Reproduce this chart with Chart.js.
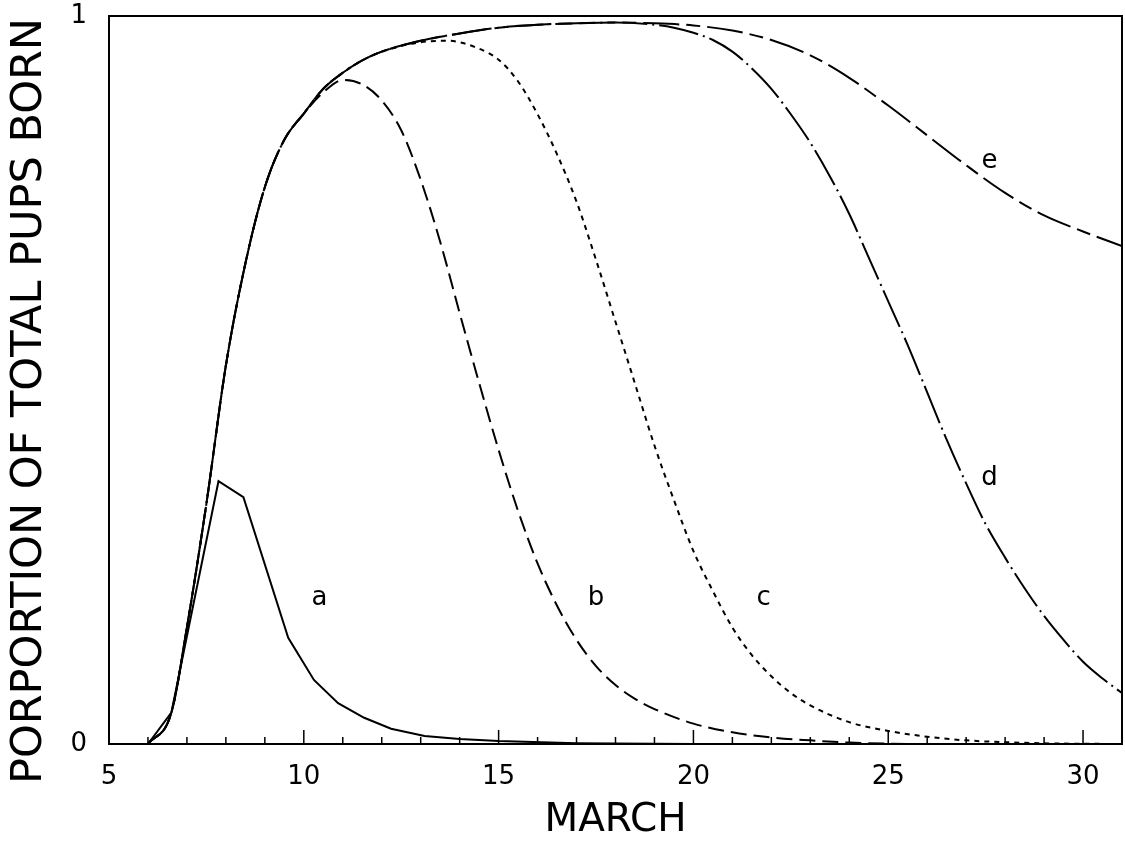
<!DOCTYPE html>
<html>
<head>
<meta charset="utf-8">
<title>Pups born in March</title>
<script src="https://cdn.jsdelivr.net/npm/chart.js"></script>
<style>
  body { margin: 0; background: #fff; }
  .wrap { width: 1125px; height: 846px; position: relative; }
</style>
</head>
<body>
<div class="wrap"><canvas id="pupsChart"></canvas></div>
<script>
// day of March -> proportion of total pups born
const aDays = [6, 6.6, 7.81, 8.45, 9.6, 10.26, 10.88, 11.55, 12.24, 13.1, 14, 15, 17, 20, 31];
const aVals = [0, 0.043, 0.361, 0.339, 0.146, 0.088, 0.056, 0.036, 0.021, 0.011, 0.007, 0.004, 0.001, 0, 0];

const bDays = [6, 6.6, 7.0, 7.5, 8.0, 8.5, 9.0, 9.5, 10.0, 10.5, 11.0, 11.5, 12.0, 12.5, 13.0, 13.5, 14.0, 14.5, 15.0, 15.5, 16.0, 16.5, 17.0, 17.5, 18.0, 18.5, 19.0, 20, 21, 22, 23, 24, 26, 31];
const bVals = [0, 0.043, 0.16, 0.33, 0.52, 0.66, 0.765, 0.83, 0.866, 0.895, 0.912, 0.906, 0.884, 0.843, 0.775, 0.69, 0.592, 0.496, 0.404, 0.32, 0.248, 0.19, 0.143, 0.107, 0.081, 0.062, 0.048, 0.028, 0.016, 0.009, 0.005, 0.002, 0, 0];

const cDays = [6, 6.6, 7.0, 7.5, 8.0, 8.5, 9.0, 9.5, 10.0, 10.5, 11.0, 11.5, 12.0, 13.0, 13.7, 14.5, 15.0, 15.5, 16.0, 16.5, 17.0, 17.5, 18.0, 18.5, 19.0, 19.5, 20.0, 20.5, 21.0, 21.5, 22.0, 22.5, 23.0, 24, 25, 26, 27, 29, 31];
const cVals = [0, 0.043, 0.16, 0.33, 0.52, 0.66, 0.765, 0.83, 0.866, 0.9, 0.922, 0.939, 0.951, 0.964, 0.966, 0.955, 0.94, 0.91, 0.865, 0.81, 0.745, 0.665, 0.58, 0.495, 0.41, 0.335, 0.265, 0.21, 0.16, 0.122, 0.093, 0.07, 0.053, 0.03, 0.018, 0.01, 0.005, 0.001, 0];

const dDays = [6, 6.6, 7.0, 7.5, 8.0, 8.5, 9.0, 9.5, 10.0, 10.5, 11.0, 11.5, 12.0, 13, 14, 15, 16, 17, 18, 19.0, 19.5, 20.0, 20.5, 21.0, 21.5, 22.0, 22.5, 23.0, 23.5, 24.0, 24.5, 25.0, 25.5, 26.0, 26.5, 27.0, 27.5, 28.0, 28.5, 29.0, 29.5, 30.0, 30.5, 31];
const dVals = [0, 0.043, 0.16, 0.33, 0.52, 0.66, 0.765, 0.83, 0.866, 0.9, 0.922, 0.939, 0.951, 0.966, 0.976, 0.984, 0.988, 0.99, 0.991, 0.988, 0.984, 0.977, 0.967, 0.951, 0.928, 0.9, 0.865, 0.826, 0.78, 0.728, 0.668, 0.608, 0.548, 0.483, 0.418, 0.358, 0.302, 0.256, 0.214, 0.176, 0.143, 0.113, 0.09, 0.07];

const eDays = [6, 6.6, 7.0, 7.5, 8.0, 8.5, 9.0, 9.5, 10.0, 10.5, 11.0, 11.5, 12.0, 13, 14, 15, 16, 17, 18, 19, 20, 21, 22, 23, 24, 25, 26, 27, 28, 29, 30, 31];
const eVals = [0, 0.043, 0.16, 0.33, 0.52, 0.66, 0.765, 0.83, 0.866, 0.9, 0.922, 0.939, 0.951, 0.966, 0.976, 0.984, 0.988, 0.99, 0.991, 0.99, 0.987, 0.98, 0.967, 0.946, 0.915, 0.877, 0.836, 0.795, 0.757, 0.726, 0.704, 0.684];

// curve labels, placed in data units
const curveNames = ['a', 'b', 'c', 'd', 'e'];
const curveLabelX = [10.4, 17.5, 21.8, 27.6, 27.6];
const curveLabelY = [0.2, 0.2, 0.2, 0.365, 0.8];

const yTicks = [0, 1];
const yTitle = 'PORPORTION OF TOTAL PUPS BORN';

function pts(xs, ys) {
  return xs.map((x, i) => ({ x: x, y: ys[i] }));
}

function line(label, xs, ys, dash, smooth) {
  return {
    label: label,
    data: pts(xs, ys),
    borderColor: '#000',
    borderWidth: 2,
    borderDash: dash,
    pointRadius: 0,
    fill: false,
    tension: 0,
    cubicInterpolationMode: smooth ? 'monotone' : 'default'
  };
}

// frame, inward ticks, y title and curve letters
const decorations = {
  id: 'decorations',
  afterDatasetsDraw(chart) {
    const ctx = chart.ctx;
    const area = chart.chartArea;
    const xs = chart.scales.x;
    const ys = chart.scales.y;
    ctx.save();
    ctx.strokeStyle = '#000';
    ctx.lineWidth = 2;
    ctx.strokeRect(area.left, area.top, area.right - area.left, area.bottom - area.top);
    ctx.lineWidth = 1.5;
    xs.ticks.forEach(t => {
      const px = xs.getPixelForValue(t.value);
      const len = t.value % 5 === 0 ? 14 : 7;
      ctx.beginPath();
      ctx.moveTo(px, area.bottom);
      ctx.lineTo(px, area.bottom - len);
      ctx.stroke();
    });
    ctx.fillStyle = '#000';
    ctx.textAlign = 'center';
    ctx.textBaseline = 'middle';
    ctx.font = '26px "DejaVu Sans"';
    curveNames.forEach((n, i) => {
      ctx.fillText(n, xs.getPixelForValue(curveLabelX[i]), ys.getPixelForValue(curveLabelY[i]));
    });
    // rotated axis title, sits a bit below the plot's middle like the original
    ctx.translate(30, (area.top + area.bottom) / 2 + 21);
    ctx.rotate(-Math.PI / 2);
    ctx.font = '43px "DejaVu Sans"';
    ctx.fillText(yTitle, 0, 0);
    ctx.restore();
  }
};

new Chart(document.getElementById('pupsChart'), {
  type: 'line',
  data: {
    datasets: [
      line('a', aDays, aVals, [], false),
      line('b', bDays, bVals, [16, 7], true),
      line('c', cDays, cVals, [5, 5], true),
      line('d', dDays, dVals, [40, 5, 2, 5], true),
      line('e', eDays, eVals, [36, 7, 14, 7], true)
    ]
  },
  options: {
    responsive: true,
    maintainAspectRatio: false,
    animation: false,
    layout: { padding: { top: 16, right: 3, left: 0, bottom: 0 } },
    plugins: {
      legend: { display: false },
      tooltip: { enabled: false }
    },
    scales: {
      x: {
        type: 'linear',
        min: 5,
        max: 31,
        grid: { display: false },
        border: { display: false },
        afterFit: s => { s.height = 102; s.paddingLeft = 0; s.paddingRight = 0; },
        ticks: {
          stepSize: 1,
          autoSkip: false,
          maxRotation: 0,
          padding: 10,
          color: '#000',
          font: { family: 'DejaVu Sans', size: 26 },
          callback: v => (v % 5 === 0 && v <= 30 ? String(v) : '')
        },
        title: {
          display: true,
          text: 'MARCH',
          color: '#000',
          font: { family: 'DejaVu Sans', size: 39 },
          padding: { top: 0, bottom: 2 }
        }
      },
      y: {
        min: 0,
        max: 1,
        grid: { display: false },
        border: { display: false },
        afterFit: s => { s.width = 109; s.paddingTop = 0; s.paddingBottom = 0; },
        afterBuildTicks: s => { s.ticks = yTicks.map(v => ({ value: v })); },
        ticks: {
          padding: 14,
          color: '#000',
          font: { family: 'DejaVu Sans', size: 26 }
        }
      }
    }
  },
  plugins: [decorations]
});
</script>
</body>
</html>
